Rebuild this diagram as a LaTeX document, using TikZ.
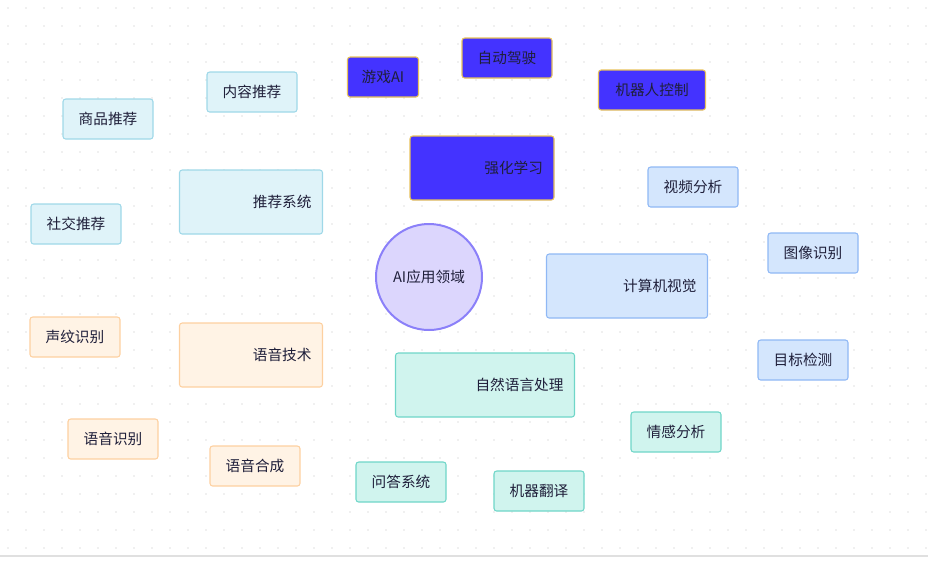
\documentclass[tikz,border=0pt]{standalone}
\usepackage{fontspec}
\setmainfont{Noto Sans CJK SC}
\definecolor{rlfill}{HTML}{4433FF}
\definecolor{rlline}{HTML}{E8C25A}
\definecolor{recfill}{HTML}{DFF3F9}
\definecolor{recline}{HTML}{9FD8E8}
\definecolor{cvfill}{HTML}{D4E6FD}
\definecolor{cvline}{HTML}{8FB8F5}
\definecolor{spfill}{HTML}{FFF3E5}
\definecolor{spline}{HTML}{FDD0A0}
\definecolor{nlpfill}{HTML}{D0F4EE}
\definecolor{nlpline}{HTML}{6FD6C8}
\definecolor{rootfill}{HTML}{DCD6FD}
\definecolor{rootline}{HTML}{8B80F9}
\definecolor{ink}{HTML}{1F1F3A}
\tikzset{
    leaf/.style 2 args={draw=#2, fill=#1, thick, rounded corners=2pt,
        minimum width=90*0.75pt, minimum height=40*0.75pt, text=ink, font=\fontsize{11}{13}\selectfont},
    topic/.style 2 args={draw=#2, fill=#1, thick, rounded corners=2pt,
        minimum height=64*0.75pt, text=ink, align=right, font=\fontsize{11}{13}\selectfont},
    branch/.style={line width=10*0.75pt, draw=#1},
}
\begin{document}
\begin{tikzpicture}[x=0.75pt, y=-0.75pt]
\useasboundingbox (0,0) rectangle (928,562);
% dotted background
\foreach \i in {0,...,51} {
    \foreach \j in {0,...,30} {
        \fill[black!12] (8+18*\i, 8+18*\j) circle (0.6pt);
    }
}
\draw[black!12, line width=1pt] (0,556) -- (928,556);

% ===============================
%        nodes
% ===============================
\node[circle, draw=rootline, fill=rootfill, line width=1.5pt, minimum size=106*0.75pt,
    text=ink, font=\fontsize{11}{13}\selectfont] (root) at (429,277) {AI应用领域};

\node[topic={rlfill}{rlline}, minimum width=144*0.75pt, text width=122*0.75pt] (rl) at (482,168) {强化学习};
\node[leaf={rlfill}{rlline}, minimum width=71*0.75pt] (game) at (383,77) {游戏AI};
\node[leaf={rlfill}{rlline}] (drive) at (507,58) {自动驾驶};
\node[leaf={rlfill}{rlline}, minimum width=107*0.75pt] (robot) at (652,90) {机器人控制};

\node[topic={recfill}{recline}, minimum width=143*0.75pt, text width=121*0.75pt] (rec) at (251,202) {推荐系统};
\node[leaf={recfill}{recline}] (content) at (252,92) {内容推荐};
\node[leaf={recfill}{recline}] (goods) at (108,119) {商品推荐};
\node[leaf={recfill}{recline}] (social) at (76,224) {社交推荐};

\node[topic={cvfill}{cvline}, minimum width=161*0.75pt, text width=139*0.75pt] (cv) at (627,286) {计算机视觉};
\node[leaf={cvfill}{cvline}] (video) at (693,187) {视频分析};
\node[leaf={cvfill}{cvline}] (image) at (813,253) {图像识别};
\node[leaf={cvfill}{cvline}] (detect) at (803,360) {目标检测};

\node[topic={spfill}{spline}, minimum width=143*0.75pt, text width=121*0.75pt] (speech) at (251,355) {语音技术};
\node[leaf={spfill}{spline}] (voiceprint) at (75,337) {声纹识别};
\node[leaf={spfill}{spline}] (asr) at (113,439) {语音识别};
\node[leaf={spfill}{spline}] (tts) at (255,466) {语音合成};

\node[topic={nlpfill}{nlpline}, minimum width=179*0.75pt, text width=157*0.75pt] (nlp) at (485,385) {自然语言处理};
\node[leaf={nlpfill}{nlpline}] (qa) at (401,482) {问答系统};
\node[leaf={nlpfill}{nlpline}] (mt) at (539,491) {机器翻译};
\node[leaf={nlpfill}{nlpline}] (senti) at (676,432) {情感分析};

% ===============================
%        branches
% ===============================
\begin{scope}[on background layer/.style={}]
\end{scope}
\end{tikzpicture}
\end{document}
